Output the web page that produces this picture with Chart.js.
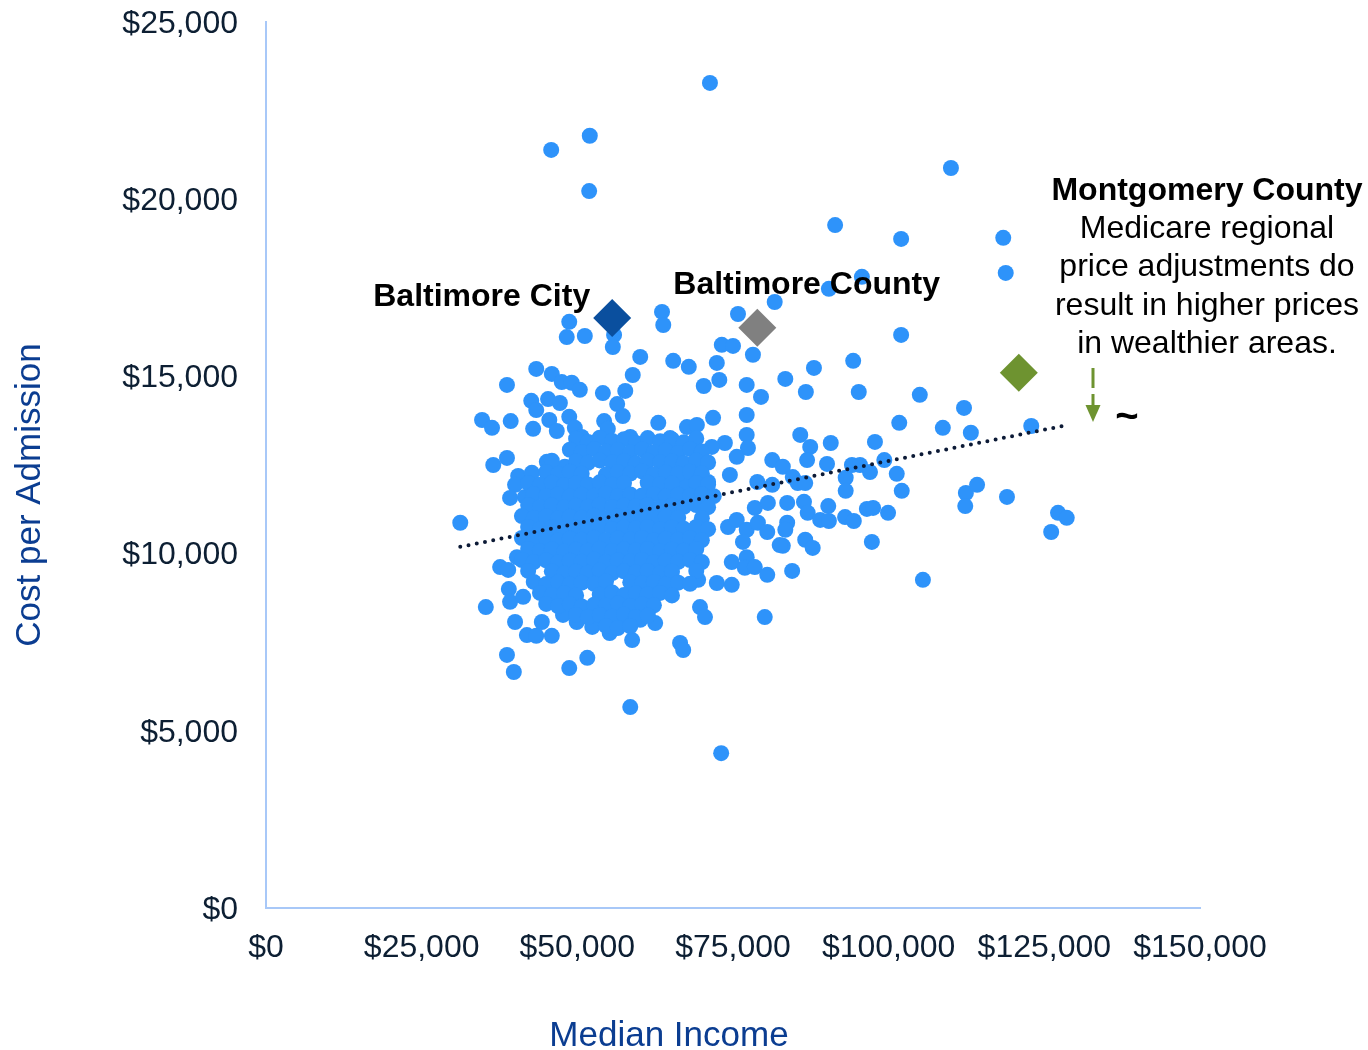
<!DOCTYPE html>
<html>
<head>
<meta charset="utf-8">
<script src="https://cdn.jsdelivr.net/npm/chart.js@4.4.1/dist/chart.umd.min.js"></script>
<style>
  html, body { margin: 0; padding: 0; background: #fff; }
  #wrap { width: 1368px; height: 1050px; }
</style>
</head>
<body>
<div id="wrap"><canvas id="costChart" width="1368" height="1050"></canvas></div>
<script>
// [median income, cost per admission]
const outlierPoints = [
  [71300, 23280], [52000, 21790], [45800, 21390], [51900, 20230], [110000, 20880],
  [91400, 19270], [102000, 18880], [118400, 18910], [118800, 17920], [95700, 17810],
  [90400, 17470], [81700, 17100], [75800, 16760], [63600, 16820], [63800, 16450],
  [48700, 16540], [48300, 16110], [51200, 16140], [55900, 16170], [55700, 15830],
  [102000, 16170], [73200, 15890], [75000, 15860], [78200, 15610], [60100, 15550],
  [65400, 15440], [67900, 15270], [72400, 15380], [94300, 15440], [88000, 15240],
  [43400, 15210], [45900, 15070], [47500, 14840], [49100, 14820], [50400, 14620],
  [38700, 14760], [58900, 15040], [57700, 14590], [54100, 14530], [56400, 14220],
  [57300, 13880], [54300, 13740], [54900, 13520], [58500, 13290], [42600, 14310],
  [43400, 14050], [45300, 14360], [47200, 14250], [45500, 13770], [46700, 13460],
  [42900, 13520], [39300, 13740], [34700, 13770], [36300, 13550], [48700, 13860],
  [49600, 13550], [72800, 14900], [70300, 14730], [77200, 14760], [83400, 14930],
  [79500, 14420], [86700, 14560], [95200, 14560], [105000, 14480], [112100, 14110],
  [101700, 13690], [108700, 13550], [113200, 13410], [122900, 13600], [63000, 13690],
  [67600, 13570], [69200, 13630], [71800, 13830], [77200, 13910], [77200, 13350],
  [85800, 13350], [87400, 13010], [90700, 13120], [97800, 13150], [73700, 13120],
  [77400, 12980], [75600, 12730], [81300, 12640], [83000, 12450], [86900, 12640],
  [90100, 12530], [94100, 12500], [95400, 12500], [97000, 12300], [99300, 12640],
  [101300, 12250], [78900, 12020], [81300, 11940], [84600, 12160], [74500, 12220],
  [85400, 11990], [86600, 11990], [93100, 12140], [93100, 11770], [102100, 11770],
  [112400, 11710], [114200, 11940], [112300, 11340], [119000, 11600], [83700, 11430],
  [86400, 11460], [90300, 11340], [87000, 11150], [83700, 10870], [89000, 10950],
  [90400, 10920], [93000, 11030], [94400, 10920], [96500, 11260], [97500, 11290],
  [99900, 11150], [86600, 10390], [87800, 10160], [97300, 10330], [83000, 10220],
  [83400, 10670], [84500, 9510], [105500, 9260], [127200, 11150], [128600, 11010],
  [126100, 10610], [78500, 11290], [80600, 11430], [74200, 10750], [75600, 10950],
  [77200, 10670], [79000, 10870], [80500, 10610], [76600, 10330], [82500, 10240],
  [77200, 9900], [74800, 9760], [76900, 9600], [78500, 9620], [80500, 9400],
  [72400, 9170], [74800, 9120], [69400, 9260], [69700, 8490], [70500, 8210],
  [80100, 8210], [66500, 7480], [67000, 7280], [62000, 8750], [61300, 8330],
  [62500, 8040], [60100, 8130], [58800, 7560], [55200, 7760], [31200, 10870],
  [37600, 9620], [40300, 9900], [39000, 9000], [39200, 8640], [35300, 8490],
  [40000, 8070], [41900, 7700], [43400, 7680], [45900, 7680], [38700, 7140],
  [39800, 6660], [48700, 6770], [51600, 7060], [58500, 5670], [73100, 4370],
  [44300, 8070], [36500, 12500], [38700, 12700], [40500, 12190], [42700, 12280],
  [45100, 12590], [48000, 12450], [40000, 11940], [39200, 11570], [41600, 11600],
  [49900, 13010], [52000, 13010], [55700, 13070], [60400, 13010], [50700, 13290],
  [38900, 9540], [41300, 8780], [52400, 7930], [49900, 8070], [47700, 8270],
  [57300, 8210], [64900, 13260], [71600, 13010], [71000, 12020], [67300, 11940]
];

// the dense middle of the cloud, read row by row (small holes left where the picture shows white)
const corePoints = [
  [49800, 13240], [51700, 13150], [53600, 13270], [55600, 13180], [57500, 13230], [59400, 13120],
  [61300, 13260], [63300, 13170], [65200, 13220], [67100, 13140], [69100, 13250],
  [48800, 12930], [50700, 12860], [52700, 12950], [54600, 12880], [56500, 12920], [58500, 12850],
  [60400, 12940], [62300, 12870], [64200, 12910], [66200, 12840], [68100, 12950], [70000, 12880],
  [45900, 12620], [49800, 12600], [51700, 12560], [53600, 12630], [55600, 12570],
  [57500, 12610], [59400, 12540], [61300, 12620], [63300, 12580], [65200, 12600], [67100, 12550],
  [69100, 12630], [71000, 12570],
  [45000, 12300], [46900, 12240], [48800, 12310], [50700, 12250], [54600, 12230],
  [56500, 12300], [58500, 12260], [60400, 12320], [62300, 12240], [64200, 12290], [66200, 12250],
  [68100, 12310], [70000, 12260],
  [42100, 11990], [44000, 11940], [45900, 12000], [47900, 11930], [49800, 11980], [51700, 11950],
  [53600, 12010], [55600, 11940], [57500, 11990], [61300, 12000], [63300, 11950],
  [65200, 11980], [69100, 11990], [71000, 11950],
  [43000, 11680], [45000, 11620], [46900, 11670], [48800, 11610], [50700, 11660], [52700, 11630],
  [54600, 11690], [56500, 11620], [58500, 11670], [60400, 11640], [62300, 11680], [64200, 11610],
  [66200, 11660], [68100, 11630], [70000, 11680], [71900, 11620],
  [42100, 11370], [44000, 11310], [45900, 11360], [47900, 11300], [49800, 11350], [51700, 11320],
  [53600, 11380], [55600, 11310], [57500, 11360], [59400, 11330], [61300, 11370], [63300, 11300],
  [65200, 11350], [67100, 11320], [69100, 11370], [71000, 11310],
  [41100, 11060], [43000, 11000], [45000, 11050], [46900, 10990], [48800, 11040], [50700, 11010],
  [52700, 11070], [54600, 11000], [56500, 11050], [58500, 11020], [60400, 11060], [62300, 10990],
  [64200, 11040], [66200, 11010], [70000, 11000],
  [42100, 10750], [44000, 10690], [45900, 10740], [47900, 10680], [49800, 10730], [51700, 10700],
  [53600, 10760], [55600, 10690], [57500, 10740], [59400, 10710], [61300, 10750], [63300, 10680],
  [65200, 10730], [67100, 10700], [69100, 10750], [71000, 10690],
  [41100, 10440], [43000, 10380], [45000, 10430], [46900, 10370], [48800, 10420], [50700, 10390],
  [52700, 10450], [54600, 10380], [56500, 10430], [58500, 10400], [60400, 10440], [62300, 10370],
  [64200, 10420], [66200, 10390], [68100, 10440], [70000, 10380],
  [42100, 10130], [44000, 10070], [45900, 10120], [47900, 10060], [49800, 10110], [51700, 10080],
  [53600, 10140], [55600, 10070], [57500, 10120], [59400, 10090], [61300, 10130], [63300, 10060],
  [65200, 10110], [67100, 10080], [69100, 10130],
  [41100, 9820], [43000, 9760], [45000, 9810], [46900, 9750], [48800, 9800], [50700, 9770],
  [52700, 9830], [54600, 9760], [56500, 9810], [58500, 9780], [60400, 9820], [62300, 9750],
  [64200, 9800], [66200, 9770], [68100, 9820], [70000, 9760],
  [42100, 9510], [45900, 9500], [47900, 9440], [49800, 9490], [51700, 9460],
  [53600, 9520], [55600, 9450], [57500, 9500], [59400, 9470], [61300, 9510], [63300, 9440],
  [65200, 9490], [69100, 9510],
  [43000, 9200], [45000, 9140], [46900, 9190], [48800, 9130], [50700, 9180], [52700, 9150],
  [54600, 9210], [58500, 9190], [60400, 9160], [62300, 9200], [64200, 9130],
  [66200, 9180], [68100, 9150],
  [44000, 8890], [45900, 8830], [47900, 8880], [49800, 8820], [53600, 8840],
  [55600, 8900], [57500, 8830], [59400, 8880], [61300, 8850], [63300, 8890], [65200, 8820],
  [45000, 8580], [46900, 8520], [48800, 8570], [50700, 8510], [52700, 8560], [54600, 8530],
  [56500, 8590], [58500, 8520], [60400, 8570], [62300, 8540],
  [49800, 8270], [51700, 8210], [53600, 8260], [55600, 8220], [57500, 8280], [59400, 8210],
  [61300, 8250],
  [54600, 7960], [56500, 7900], [58500, 7950]
];

const baltimoreCity = [55600, 16650];
const baltimoreCounty = [78900, 16370];
const montgomeryCounty = [120900, 15100];
const trendLine = [[31200, 10190], [128800, 13630]];

const incomeTicks = [0, 25000, 50000, 75000, 100000, 125000, 150000];
const costTicks = [0, 5000, 10000, 15000, 20000, 25000];

const FONT = '"Liberation Sans", Arial, sans-serif';
const toXY = p => ({ x: p[0], y: p[1] });
const money = v => '$' + Number(v).toLocaleString('en-US');

const notesPlugin = {
  id: 'notes',
  afterDraw(chart) {
    const { ctx, scales: { x, y } } = chart;
    ctx.save();
    ctx.fillStyle = '#000';
    ctx.textBaseline = 'alphabetic';
    ctx.font = 'bold 32px ' + FONT;

    ctx.textAlign = 'right';
    ctx.fillText('Baltimore City', x.getPixelForValue(baltimoreCity[0]) - 22, y.getPixelForValue(baltimoreCity[1]) - 12);
    ctx.textAlign = 'left';
    ctx.fillText('Baltimore County', x.getPixelForValue(baltimoreCounty[0]) - 84, y.getPixelForValue(baltimoreCounty[1]) - 34);

    // Montgomery note block
    ctx.textAlign = 'center';
    ctx.fillText('Montgomery County', 1207, 200);
    ctx.font = '32px ' + FONT;
    const lines = ['Medicare regional', 'price adjustments do', 'result in higher prices', 'in wealthier areas.'];
    lines.forEach((t, i) => ctx.fillText(t, 1207, 238 + i * 38.3));

    // arrow and tilde
    ctx.strokeStyle = '#6e9330';
    ctx.fillStyle = '#6e9330';
    ctx.lineWidth = 3;
    ctx.setLineDash([20, 6]);
    ctx.beginPath();
    ctx.moveTo(1093, 368);
    ctx.lineTo(1093, 407);
    ctx.stroke();
    ctx.setLineDash([]);
    ctx.beginPath();
    ctx.moveTo(1085.5, 405);
    ctx.lineTo(1100.5, 405);
    ctx.lineTo(1093, 422);
    ctx.closePath();
    ctx.fill();
    ctx.fillStyle = '#000';
    ctx.font = 'bold 40px ' + FONT;
    ctx.fillText('~', 1127, 429);

    // axis titles
    ctx.fillStyle = '#0b3d91';
    ctx.font = '35px ' + FONT;
    ctx.fillText('Median Income', 669, 1046);
    ctx.translate(40, 495);
    ctx.rotate(-Math.PI / 2);
    ctx.fillText('Cost per Admission', 0, 0);
    ctx.restore();
  }
};

const ctx = document.getElementById('costChart').getContext('2d');
new Chart(ctx, {
  type: 'scatter',
  data: {
    datasets: [
      {
        label: 'Trend',
        type: 'line',
        data: trendLine.map(toXY),
        borderColor: '#0c1a36',
        borderWidth: 4,
        borderDash: [0, 8.4],
        borderCapStyle: 'round',
        pointRadius: 0,
        fill: false,
        order: 0
      },
      {
        label: 'Highlighted',
        data: [baltimoreCity, baltimoreCounty, montgomeryCounty].map(toXY),
        pointStyle: 'rectRot',
        pointRadius: 19,
        borderWidth: 0,
        backgroundColor: ['#0a4f9e', '#808080', '#6e9330'],
        borderColor: ['#0a4f9e', '#808080', '#6e9330'],
        order: 1
      },
      {
        label: 'Counties',
        data: outlierPoints.concat(corePoints).map(toXY),
        pointRadius: 8,
        borderWidth: 0,
        backgroundColor: '#2e93fa',
        borderColor: '#2e93fa',
        order: 2
      }
    ]
  },
  options: {
    responsive: false,
    animation: false,
    layout: { padding: { left: 0, right: 168, top: 22, bottom: 0 } },
    plugins: {
      legend: { display: false },
      tooltip: { enabled: false }
    },
    scales: {
      x: {
        type: 'linear',
        min: 0,
        max: 150000,
        afterBuildTicks: s => { s.ticks = incomeTicks.map(v => ({ value: v })); },
        afterFit: s => { s.height = 142; s.paddingLeft = 0; s.paddingRight = 0; },
        ticks: {
          autoSkip: false,
          maxRotation: 0,
          padding: 21,
          color: '#0d1f33',
          font: { family: FONT, size: 32 },
          callback: money
        },
        grid: { display: false, drawTicks: false },
        border: { color: '#a8c8f8', width: 2 }
      },
      y: {
        type: 'linear',
        min: 0,
        max: 25000,
        afterBuildTicks: s => { s.ticks = costTicks.map(v => ({ value: v })); },
        afterFit: s => { s.width = 266; s.paddingTop = 0; s.paddingBottom = 0; },
        ticks: {
          padding: 28,
          labelOffset: 2,
          color: '#0d1f33',
          font: { family: FONT, size: 32 },
          callback: money
        },
        grid: { display: false, drawTicks: false },
        border: { color: '#a8c8f8', width: 2 }
      }
    }
  },
  plugins: [notesPlugin]
});
</script>
</body>
</html>
